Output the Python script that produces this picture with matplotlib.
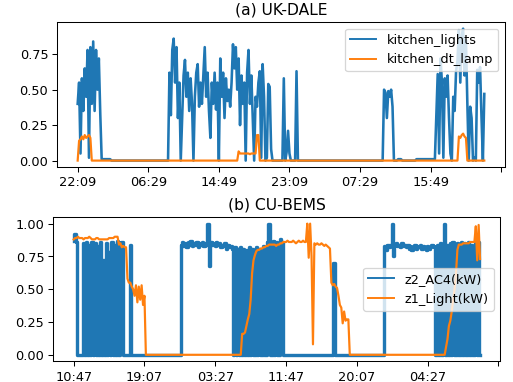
import numpy as np
import matplotlib
matplotlib.use('Agg')
import matplotlib.pyplot as plt

# UK-DALE, one sample every 10 minutes starting 22:09
kitchen_lights = ([0.40, 0.55, 0.05, 0.58, 0.35, 0.65, 0.45, 0.78, 0.02, 0.80, 0.40, 0.84, 0.35, 0.78, 0.50, 0.72, 0.33]
                  + [0.01] * 7 + [0.0] * 41
                  + [0.62, 0.32, 0.78, 0.86, 0.55, 0.80, 0.30, 0.55, 0.0, 0.30, 0.60, 0.71, 0.45, 0.62, 0.35, 0.58,
                     0.40, 0.0, 0.45, 0.62, 0.68, 0.38, 0.55, 0.40, 0.60, 0.80, 0.45, 0.62, 0.35, 0.16, 0.55, 0.40,
                     0.62, 0.36, 0.55, 0.0, 0.72, 0.45, 0.62, 0.30, 0.58, 0.42, 0.50, 0.38, 0.55, 0.82, 0.65, 0.80,
                     0.50, 0.72, 0.25, 0.60, 0.40, 0.55, 0.0, 0.62, 0.78, 0.40, 0.60, 0.30, 0.0, 0.45, 0.38, 0.55,
                     0.63, 0.02, 0.68, 0.45, 0.0, 0.02, 0.54, 0.52, 0.08]
                  + [0.0] * 8 + [0.58, 0.0, 0.06, 0.21, 0.05] + [0.0] * 4 + [0.63] + [0.0] * 61
                  + [0.50, 0.48, 0.30, 0.49, 0.45, 0.50, 0.38]
                  + [0.0] * 3 + [0.01] * 3 + [0.0] * 10 + [0.01] * 14
                  + [0.30, 0.61, 0.05, 0.72, 0.55, 0.02, 0.58, 0.45, 0.60, 0.30, 0.05, 0.0, 0.45, 0.35, 0.63, 0.70,
                     0.92, 0.55, 0.88, 0.93, 0.60, 0.85, 0.40, 0.0, 0.38, 0.30, 0.0, 0.02, 0.0, 0.64, 0.55, 0.66,
                     0.31, 0.0, 0.47])

kitchen_dt_lamp = ([0.0, 0.14, 0.15, 0.17, 0.15, 0.18, 0.16, 0.17, 0.18, 0.16]
                   + [0.0] * 104
                   + [0.065, 0.05, 0.05, 0.05, 0.05, 0.05, 0.05, 0.05, 0.045, 0.05, 0.05, 0.05, 0.05, 0.18, 0.18]
                   + [0.0] * 141
                   + [0.17, 0.16, 0.18, 0.19, 0.17, 0.16]
                   + [0.0] * 13)

ukdale_ticks = ['22:09', '06:29', '14:49', '23:09', '07:29', '15:49', '']

# CU-BEMS, one sample every 10 minutes starting 10:47
z2_ac4 = ([0.87, 0.92, 0.86] + [0.0] * 4
          + [0.85, 0.0, 0.86, 0.0, 0.84, 0.0, 0.86, 0.0, 0.85, 0.0, 0.83, 0.0, 0.86, 0.0, 0.72, 0.0,
             0.85, 0.0, 0.78, 0.0, 0.86, 0.0, 0.84, 0.0, 0.87, 0.0, 0.85, 0.86]
          + [0.0] * 5 + [0.84] + [0.0] * 35
          + [0.84, 0.86, 0.83, 0.85, 0.82, 0.86, 0.84, 0.87, 0.83, 0.85, 0.84, 0.86, 0.82, 0.85, 0.84, 0.86,
             0.83, 0.85, 0.84, 1.00, 0.68, 0.86, 0.84, 0.85, 0.83, 0.86, 0.84, 0.85, 0.82, 0.84, 0.83, 0.85,
             0.81, 0.84, 0.82, 0.83]
          + [0.81, 0.0, 0.82, 0.0, 0.81, 0.0, 0.82, 0.0, 0.81, 0.0, 0.80, 0.0, 0.82, 0.0, 0.81, 0.0,
             0.0, 0.82, 0.0, 0.81, 0.0, 0.0, 0.83, 0.0, 0.0, 0.86, 1.00, 0.0, 0.0, 0.87, 0.0, 0.86,
             0.0, 0.0, 0.88, 0.86]
          + [0.0] * 36 + [0.70] + [0.0] * 35
          + [0.83, 0.80, 0.84, 0.82, 0.84, 1.00, 0.75, 0.84, 0.85, 0.83, 0.84, 0.82, 0.85, 0.83, 0.84, 0.82,
             0.84, 0.81, 0.83, 0.80, 0.82, 0.84, 0.81, 0.83, 0.82, 0.84, 0.81, 0.83, 0.82, 0.80, 0.83, 0.81,
             0.82, 0.84, 0.83, 0.82]
          + [0.0, 0.84, 0.0, 0.85, 0.0, 0.83, 1.00, 0.0, 0.84, 0.0, 0.85, 0.0, 0.86, 0.0, 0.0, 0.85,
             0.0, 0.0, 0.86, 0.0, 0.85, 0.0, 0.0, 0.86, 0.0, 0.84, 0.0, 0.0, 0.85, 0.0, 0.86, 0.0])

z1_light = ([0.88, 0.89, 0.89, 0.90, 0.89, 0.89, 0.89, 0.88, 0.89, 0.89, 0.89, 0.90, 0.89, 0.88, 0.88, 0.88,
             0.89, 0.89, 0.88, 0.88, 0.88, 0.88, 0.88, 0.88, 0.88, 0.89, 0.89, 0.89, 0.89, 0.90, 0.90, 0.90]
            + [0.84, 0.85, 0.82, 0.83, 0.82, 0.82, 0.58, 0.55, 0.55, 0.52, 0.50, 0.45, 0.53, 0.40, 0.52, 0.42,
               0.53, 0.38, 0.45]
            + [0.0] * 68
            + [0.16, 0.16, 0.17, 0.22, 0.27, 0.31, 0.42, 0.62, 0.72, 0.76, 0.79, 0.80, 0.80, 0.81, 0.81]
            + [0.82, 0.82, 0.83, 0.83, 0.84, 0.84, 0.84, 0.84, 0.84, 0.83, 0.84, 0.84, 0.85, 0.85, 0.86, 0.86,
               0.86, 0.87, 0.86, 0.86, 0.86, 0.87, 0.86, 0.85, 0.86, 0.87, 0.86, 0.86, 0.87, 0.86, 0.86]
            + [1.00, 0.74, 1.00, 0.75, 0.08]
            + [0.85, 0.84, 0.85, 0.84, 0.84, 0.85, 0.84, 0.83, 0.84, 0.83, 0.82, 0.81, 0.55, 0.53, 0.54, 0.52,
               0.51, 0.45, 0.38, 0.36, 0.24, 0.33, 0.26, 0.27, 0.27]
            + [0.0] * 68
            + [0.06, 0.12, 0.22, 0.26, 0.33, 0.42, 0.50, 0.62, 0.80, 0.84, 0.84, 0.84, 0.85, 0.85, 0.85, 0.85,
               0.85, 0.86, 0.86, 0.86, 0.86]
            + [0.98, 0.72, 0.99, 0.73])

cubems_ticks = ['10:47', '19:07', '03:27', '11:47', '20:07', '04:27', '']

fig = plt.figure(figsize=(5.52, 4.11), dpi=93)

# (a) UK-DALE
ax1 = fig.add_axes([0.1117, 0.562, 0.8713, 0.3796])
ax1.plot(np.arange(len(kitchen_lights)), kitchen_lights, lw=2.0, label='kitchen_lights')
ax1.plot(np.arange(len(kitchen_dt_lamp)), kitchen_dt_lamp, lw=1.7, label='kitchen_dt_lamp')
ax1.set_xticks(np.arange(0, 301, 50))
ax1.set_xticklabels(ukdale_ticks)
ax1.set_title('(a) UK-DALE')
leg1 = ax1.legend(loc='upper right')
for line in leg1.get_lines():
    line.set_linewidth(1.5)

# (b) CU-BEMS
ax2 = fig.add_axes([0.1039, 0.054, 0.8708, 0.3775])
ax2.plot(np.arange(len(z2_ac4)), z2_ac4, lw=2.6, drawstyle='steps-mid', label='z2_AC4(kW)')
ax2.plot(np.arange(len(z1_light)), z1_light, lw=1.7, label='z1_Light(kW)')
ax2.set_xticks(np.arange(0, 301, 50))
ax2.set_xticklabels(cubems_ticks)
ax2.set_title('(b) CU-BEMS')
leg2 = ax2.legend(loc='center right')
for line in leg2.get_lines():
    line.set_linewidth(1.5)

plt.savefig('out.png', dpi=93)
